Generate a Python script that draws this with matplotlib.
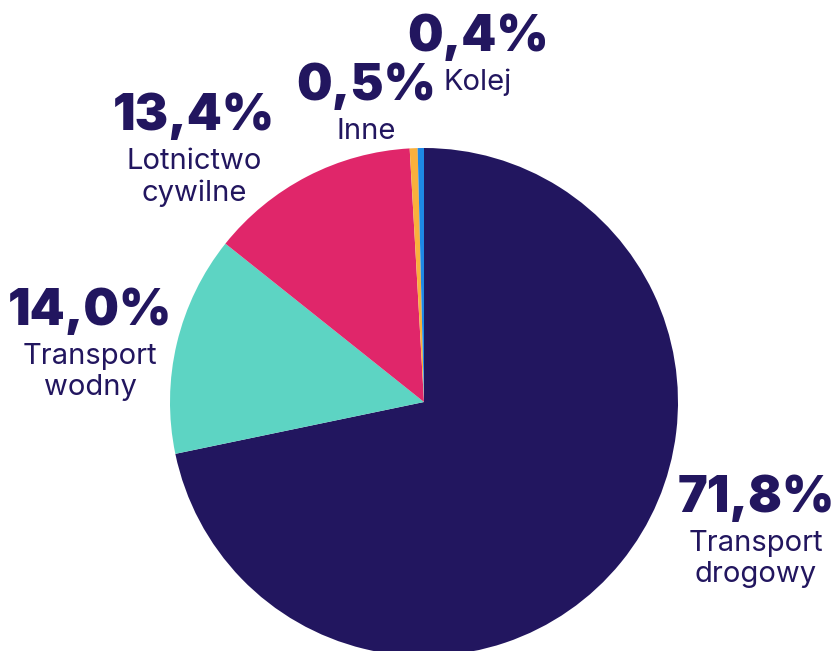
import matplotlib.pyplot as plt

labels = ['Transport\ndrogowy', 'Transport\nwodny', 'Lotnictwo\ncywilne', 'Inne', 'Kolej']
shares = [71.8, 14.0, 13.4, 0.5, 0.4]
colors = ['#22165f', '#5dd4c3', '#e0266a', '#f9b03c', '#1e88e5']
# label anchor points (pixel coords, y down)
label_pos = [(756, 498), (90, 311), (194, 116), (366, 86), (478, 37)]

W, H = 835, 651
fig = plt.figure(figsize=(W / 100, H / 100), dpi=100)
ax = fig.add_axes([0, 0, 1, 1])

ax.pie(shares, colors=colors, startangle=90, counterclock=False,
       center=(424, H - 402), radius=254, frame=True,
       wedgeprops=dict(linewidth=0))
ax.set_xlim(0, W)
ax.set_ylim(0, H)
ax.set_aspect('equal')
ax.axis('off')

navy = '#22165f'
for lab, val, (x, y) in zip(labels, shares, label_pos):
    ax.text(x, H - y, f'{val:.1f}%'.replace('.', ','), ha='center', va='center',
            fontsize=36, fontweight='black', color=navy,
            family=['Inter', 'Lato', 'DejaVu Sans'])
    ax.text(x, H - y - 32, lab, ha='center', va='top', fontsize=21,
            color=navy, family=['Inter', 'DejaVu Sans'], linespacing=1.2)

fig.savefig('out.png', dpi=100)
